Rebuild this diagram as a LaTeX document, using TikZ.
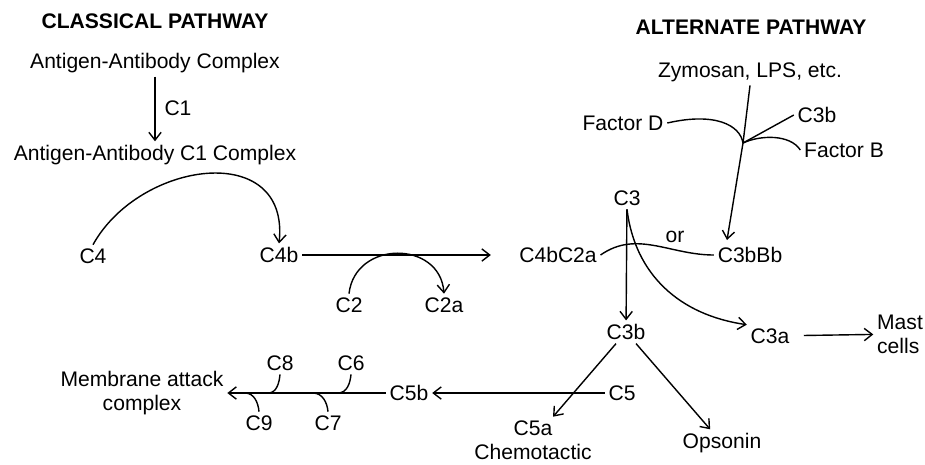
\documentclass[tikz,border=0pt]{standalone}
\usepackage{fontspec}
\setmainfont{Liberation Sans}
\usetikzlibrary{arrows.meta}

\begin{document}
\begin{tikzpicture}[x=0.02cm,y=-0.02cm,
  txt/.style={font=\fontsize{12}{13.6}\selectfont,inner sep=2pt},
  hdr/.style={font=\fontsize{12}{13.6}\selectfont\bfseries,inner sep=2pt},
  flow/.style={line width=0.8pt},
  >={Straight Barb[length=4.5pt,width=7pt]}]
\useasboundingbox (0,0) rectangle (925,464);

% classical pathway
\node[hdr] (clhead) at (155,21) {CLASSICAL PATHWAY};
\node[txt] (agab) at (155,63) {Antigen-Antibody Complex};
\node[txt] (c1) at (178,108) {C1};
\node[txt] (agabc) at (155,155) {Antigen-Antibody C1 Complex};
\node[txt] (c4) at (93,256) {C4};
\node[txt] (c4b) at (279,255) {C4b};
\node[txt] (c2) at (349,305) {C2};
\node[txt] (c2a) at (444,305) {C2a};
\node[txt] (c4bc2a) at (558,255) {C4bC2a};

% alternate pathway
\node[hdr] (alhead) at (751,27) {ALTERNATE PATHWAY};
\node[txt] (zym) at (750,72) {Zymosan, LPS, etc.};
\node[txt] (fd) at (623,123) {Factor D};
\node[txt] (c3btop) at (817,115) {C3b};
\node[txt] (fb) at (844,150) {Factor B};
\node[txt] (c3) at (627,198) {C3};
\node[txt] (orlbl) at (675,237) {or};
\node[txt] (c3bbb) at (750,255) {C3bBb};
\coordinate (jct) at (743,143);
\coordinate (bbtip) at (727,240);

% common pathway
\node[txt] (c3b) at (626,332) {C3b};
\node[txt] (c3a) at (770,336) {C3a};
\node[txt,align=left] (mast) at (900,334) {Mast\\cells};
\node[txt] (c5) at (622,393) {C5};
\node[txt] (c5b) at (409,393) {C5b};
\node[txt,align=center] (c5a) at (533,440) {C5a\\Chemotactic};
\node[txt] (ops) at (722,443) {Opsonin};
\node[txt,align=center] (mac) at (142,393) {Membrane attack\\complex};
\node[txt] (c8) at (280,363) {C8};
\node[txt] (c6) at (351,363) {C6};
\node[txt] (c9) at (259,423) {C9};
\node[txt] (c7) at (328,423) {C7};
\coordinate (h8) at (268,393);
\coordinate (h6) at (338,393);
\coordinate (h9) at (245,393);
\coordinate (h7) at (313,393);

\draw[flow,->] (agab) -- (agabc);
\draw[flow,->] (c4.north) .. controls (140,160) and (290,140) .. (c4b.north);
\draw[flow,->,shorten >=14pt] (c4b) -- (c4bc2a);
\draw[flow,->] (c2.north) .. controls (355,240) and (440,240) .. (c2a.north);

\draw[flow] (fd.east) .. controls (715,112) and (740,125) .. (jct);
\draw[flow] (c3btop.west) -- (jct);
\draw[flow] (jct) .. controls (760,135) and (790,134) .. (fb.west);
\draw[flow,->] (zym.south) -- (jct) -- (bbtip);
\draw[flow] (c4bc2a.east) to[out=35,in=180] (c3bbb.west);

\draw[flow,->] (c3) -- (c3b);
\draw[flow,->] (c3.south) .. controls (635,275) and (680,315) .. (c3a.north west);
\draw[flow,->,shorten <=6pt] (c3a) -- (mast);
\draw[flow,->] (c3b) -- (c5a);
\draw[flow,->] (c3b) -- (ops);
\draw[flow,->] (c5) -- (c5b);
\draw[flow,->] (c5b) -- (mac);

% hooks on the attack line
\draw[flow] (c8.south) to[out=-95,in=0] (h8);
\draw[flow] (c6.south) to[out=-95,in=0] (h6);
\draw[flow] (c9.north) to[out=95,in=0] (h9);
\draw[flow] (c7.north) to[out=95,in=0] (h7);

\end{tikzpicture}
\end{document}
